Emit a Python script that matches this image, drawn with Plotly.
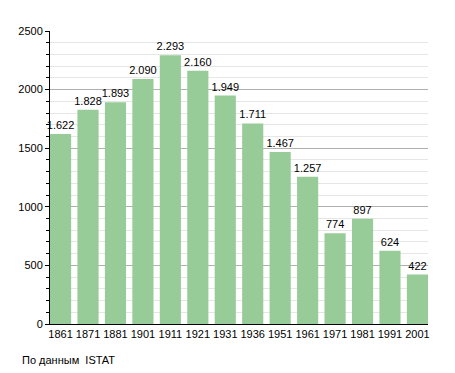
import plotly.graph_objects as go

years = ["1861", "1871", "1881", "1901", "1911", "1921", "1931", "1936", "1951", "1961", "1971", "1981", "1991", "2001"]
population = [1622, 1828, 1893, 2090, 2293, 2160, 1949, 1711, 1467, 1257, 774, 897, 624, 422]
labels = [f"{v:,}".replace(",", ".") for v in population]

gap = 0.23
fig = go.Figure()
fig.add_trace(go.Bar(
    x=years, y=population, text=labels, textposition="outside",
    marker=dict(color="#97cb97", line=dict(width=0)),
    textfont=dict(size=11, color="black"), cliponaxis=False,
    constraintext="none",
))
fig.update_layout(
    width=455, height=373,
    margin=dict(l=42, r=35, t=23, b=57, autoexpand=False),
    paper_bgcolor="white", plot_bgcolor="white",
    font=dict(family="Liberation Sans, Arial, sans-serif", size=11, color="black"),
    bargap=gap, showlegend=False,
    uniformtext=dict(minsize=11, mode="show"),
    xaxis=dict(type="category", showline=True, linecolor="black", linewidth=1,
               range=[-0.5 + gap / 2, len(years) - 0.5 - gap / 2],
               ticks="", tickfont=dict(size=11), automargin=False),
    yaxis=dict(range=[0, 2500], dtick=500, showline=True, linecolor="black", linewidth=1,
               ticks="outside", ticklen=4, tickcolor="black",
               gridcolor="#b0b0b0", gridwidth=1, zeroline=False, automargin=False,
               minor=dict(dtick=100, showgrid=True, gridcolor="#e6e6e6",
                          ticks="outside", ticklen=3, tickcolor="black"),
               tickfont=dict(size=11)),
    annotations=[dict(text="По данным  ISTAT", xref="paper", yref="paper",
                      x=(20 - 50) / 378, y=-(360 - 324) / 293,
                      xanchor="left", yanchor="middle",
                      showarrow=False, font=dict(size=11))],
)
fig.write_html("out.html")
